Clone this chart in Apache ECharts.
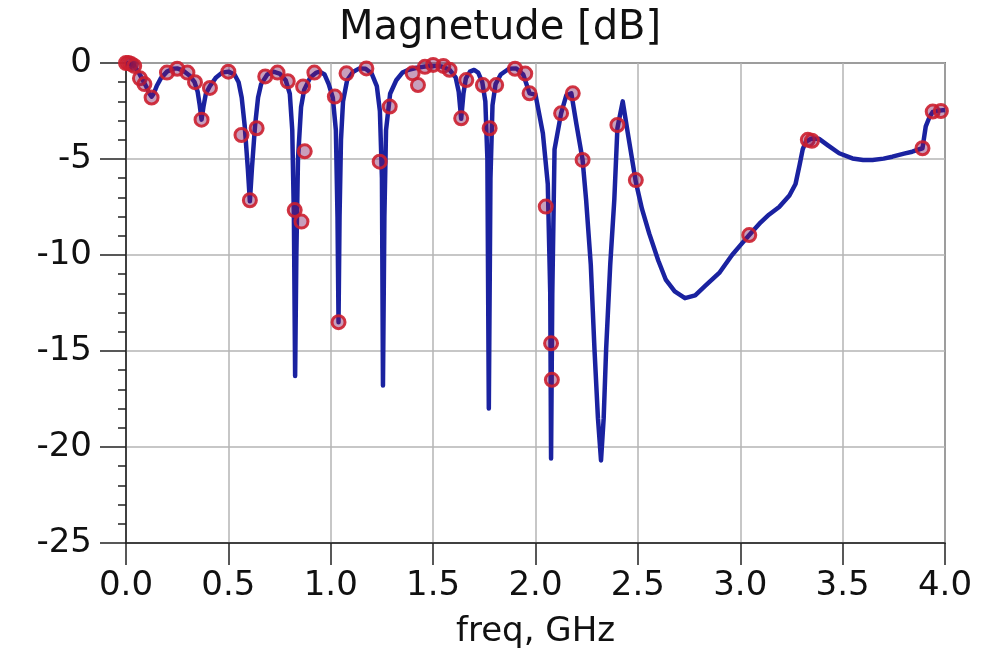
<!DOCTYPE html>
<html>
<head>
<meta charset="utf-8">
<script src="https://cdn.jsdelivr.net/npm/echarts@6/dist/echarts.min.js"></script>
<style>
  html, body { margin: 0; padding: 0; background: #fff; }
  #chart { width: 1000px; height: 656px; }
</style>
</head>
<body>
<div id="chart"></div>
<script>
  // curve samples (GHz, dB)
  var freq = [
    0.00, 0.02, 0.04, 0.06, 0.08, 0.10, 0.115, 0.125, 0.135, 0.15, 0.17, 0.20, 0.23, 0.25, 0.28, 0.31, 0.335, 0.35, 0.36, 0.369,
    0.378, 0.39, 0.41, 0.44, 0.47, 0.50, 0.53, 0.55, 0.565, 0.58, 0.595, 0.605, 0.615, 0.63, 0.645, 0.66, 0.69, 0.72, 0.75, 0.78,
    0.80, 0.812, 0.82, 0.826, 0.832, 0.84, 0.855, 0.87, 0.90, 0.93, 0.946, 0.97, 0.99, 1.01, 1.025, 1.033, 1.038, 1.043, 1.05, 1.06,
    1.08, 1.11, 1.14, 1.17, 1.20, 1.225, 1.24, 1.25, 1.255, 1.262, 1.27, 1.29, 1.32, 1.35, 1.38, 1.42, 1.46, 1.50, 1.54, 1.58,
    1.61, 1.625, 1.637, 1.648, 1.66, 1.68, 1.70, 1.72, 1.74, 1.755, 1.765, 1.772, 1.78, 1.79, 1.805, 1.83, 1.87, 1.906, 1.94, 1.971,
    2.00, 2.036, 2.06, 2.072, 2.076, 2.082, 2.093, 2.125, 2.15, 2.175, 2.20, 2.23, 2.247, 2.27, 2.288, 2.305, 2.32, 2.333, 2.345, 2.365,
    2.385, 2.40, 2.426, 2.45, 2.49, 2.52, 2.556, 2.60, 2.637, 2.68, 2.73, 2.78, 2.83, 2.90, 2.96, 3.00, 3.044, 3.10, 3.14, 3.19,
    3.24, 3.27, 3.29, 3.305, 3.32, 3.345, 3.385, 3.43, 3.483, 3.548, 3.60, 3.646, 3.70, 3.743, 3.80, 3.84, 3.89, 3.906, 3.925, 3.94,
    3.97, 4.00
  ];
  var magDb = [
    0.0, -0.05, -0.15, -0.45, -0.85, -1.25, -1.6, -1.75, -1.6, -1.2, -0.8, -0.45, -0.3, -0.28, -0.4, -0.65, -1.0, -1.5, -2.2, -2.95,
    -2.3, -1.6, -1.2, -0.75, -0.5, -0.45, -0.6, -1.0, -1.8, -3.3, -5.5, -7.2, -5.5, -3.3, -1.8, -1.1, -0.6, -0.45, -0.55, -0.9,
    -1.6, -3.5, -8.0, -16.3, -10.0, -5.0, -2.3, -1.4, -0.75, -0.5, -0.45, -0.6, -1.1, -1.8, -3.5, -8.0, -13.5, -8.0, -4.0, -2.0,
    -0.9, -0.45, -0.28, -0.3, -0.55, -1.2, -2.5, -6.0, -16.8, -8.0, -3.5, -1.6, -0.9, -0.5, -0.35, -0.25, -0.18, -0.15, -0.18, -0.35,
    -0.75, -1.5, -2.9, -1.6, -0.8, -0.45, -0.36, -0.5, -1.0, -2.0, -5.0, -18.0, -6.0, -2.2, -1.1, -0.6, -0.3, -0.28, -0.6, -1.58,
    -1.65, -3.66, -6.3, -12.0, -20.6, -12.0, -4.5, -2.62, -1.7, -1.58, -3.2, -5.05, -7.1, -10.5, -14.9, -18.5, -20.7, -18.5, -14.9, -10.5,
    -7.1, -3.4, -2.0, -3.6, -6.2, -7.6, -8.9, -10.3, -11.3, -11.9, -12.25, -12.1, -11.6, -10.9, -10.0, -9.5, -8.96, -8.3, -7.9, -7.5,
    -6.9, -6.3, -5.3, -4.5, -4.1, -3.95, -3.95, -4.3, -4.7, -4.97, -5.05, -5.05, -4.98, -4.88, -4.72, -4.62, -4.44, -3.3, -2.8, -2.55,
    -2.48, -2.45
  ];

  // red circle markers
  var markerFreq = [
    0.0, 0.012, 0.025, 0.04, 0.068, 0.09, 0.125, 0.2, 0.25, 0.3, 0.337, 0.369, 0.41, 0.5, 0.564, 0.605, 0.638, 0.68, 0.74, 0.79,
    0.824, 0.857, 0.873, 0.865, 0.92, 1.02, 1.038, 1.077, 1.174, 1.239, 1.288, 1.40, 1.426, 1.46, 1.50, 1.55, 1.58, 1.637, 1.662, 1.743,
    1.776, 1.808, 1.90, 1.95, 1.971, 2.05, 2.076, 2.08, 2.125, 2.182, 2.23, 2.40, 2.49, 3.044, 3.33, 3.35, 3.89, 3.94, 3.98
  ];
  var markerDb = [
    0.0, 0.0, -0.05, -0.15, -0.8, -1.1, -1.8, -0.5, -0.3, -0.5, -1.0, -2.95, -1.3, -0.45, -3.75, -7.15, -3.4, -0.7, -0.5, -0.95,
    -7.66, -8.26, -4.6, -1.23, -0.5, -1.75, -13.5, -0.54, -0.28, -5.14, -2.27, -0.54, -1.15, -0.2, -0.1, -0.15, -0.35, -2.88, -0.89, -1.15,
    -3.4, -1.15, -0.3, -0.55, -1.58, -7.48, -14.6, -16.5, -2.62, -1.58, -5.05, -3.23, -6.1, -8.96, -4.0, -4.05, -4.44, -2.53, -2.5
  ];

  var font = 'DejaVu Sans';
  var chart = echarts.init(document.getElementById('chart'));

  var lineData = freq.map(function (f, i) { return [f, magDb[i]]; });
  var markerData = markerFreq.map(function (f, i) { return [f, markerDb[i]]; });

  chart.setOption({
    backgroundColor: '#fff',
    animation: false,
    title: {
      text: 'Magnetude [dB]',
      left: 'center',
      top: 4,
      textStyle: { fontFamily: font, fontSize: 40, fontWeight: 'normal', color: '#111' }
    },
    grid: {
      left: 126,
      right: 55,
      top: 63,
      bottom: 113,
      show: true,
      borderColor: '#222',
      borderWidth: 1.5
    },
    xAxis: {
      type: 'value',
      min: 0,
      max: 4,
      interval: 0.5,
      name: 'freq, GHz',
      nameLocation: 'middle',
      nameGap: 72,
      nameTextStyle: { fontFamily: font, fontSize: 34, color: '#111' },
      axisLine: { onZero: false, lineStyle: { color: '#222', width: 1.5 } },
      axisTick: { show: true, length: 22, lineStyle: { color: '#222', width: 1.5 } },
      axisLabel: {
        margin: 26,
        fontFamily: font,
        fontSize: 34,
        color: '#111',
        formatter: function (v) { return v.toFixed(1); }
      },
      splitLine: { show: true, lineStyle: { color: '#b4b4b4', width: 1.5 } }
    },
    yAxis: {
      type: 'value',
      min: -25,
      max: 0,
      interval: 5,
      axisLine: { show: true, onZero: false, lineStyle: { color: '#222', width: 1.5 } },
      axisTick: { show: true, length: 26, lineStyle: { color: '#222', width: 1.5 } },
      minorTick: { show: true, splitNumber: 5, length: 8, lineStyle: { color: '#222', width: 1.5 } },
      axisLabel: { margin: 34, fontFamily: font, fontSize: 34, color: '#111' },
      splitLine: { show: true, lineStyle: { color: '#b4b4b4', width: 1.5 } }
    },
    series: [
      {
        name: 'S21',
        type: 'line',
        data: lineData,
        showSymbol: false,
        smooth: false,
        z: 2,
        lineStyle: { color: '#1a22a0', width: 4.5, join: 'round' }
      },
      {
        name: 'markers',
        type: 'scatter',
        data: markerData,
        symbol: 'circle',
        symbolSize: 13,
        z: 3,
        itemStyle: { color: 'rgba(120,20,90,0.45)', borderColor: '#cc1f2f', borderWidth: 3, opacity: 0.9 }
      }
    ]
  });
</script>
</body>
</html>
